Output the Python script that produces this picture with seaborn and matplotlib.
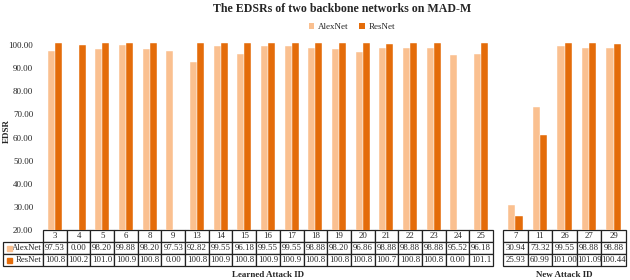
import matplotlib
matplotlib.use("Agg")
import matplotlib.pyplot as plt
from matplotlib.patches import Patch
import seaborn as sns
import pandas as pd

learned_ids = ["3", "4", "5", "6", "8", "9", "13", "14", "15", "16", "17", "18",
               "19", "20", "21", "22", "23", "24", "25"]
learned_alex = [97.53, 0.00, 98.20, 99.88, 98.20, 97.53, 92.82, 99.55, 96.18, 99.55,
                99.55, 98.88, 98.20, 96.86, 98.88, 98.88, 98.88, 95.52, 96.18]
learned_res = [100.8, 100.2, 101.0, 100.9, 100.8, 0.00, 100.8, 100.9, 100.8, 100.9,
               100.9, 100.8, 100.8, 100.8, 100.7, 100.8, 100.8, 0.00, 101.1]
learned_alex_txt = ["97.53", "0.00", "98.20", "99.88", "98.20", "97.53", "92.82", "99.55",
                    "96.18", "99.55", "99.55", "98.88", "98.20", "96.86", "98.88", "98.88",
                    "98.88", "95.52", "96.18"]
learned_res_txt = ["100.8", "100.2", "101.0", "100.9", "100.8", "0.00", "100.8", "100.9",
                   "100.8", "100.9", "100.9", "100.8", "100.8", "100.8", "100.7", "100.8",
                   "100.8", "0.00", "101.1"]

new_ids = ["7", "11", "26", "27", "29"]
new_alex = [30.94, 73.32, 99.55, 98.88, 98.88]
new_res = [25.93, 60.99, 101.00, 101.09, 100.44]
new_alex_txt = ["30.94", "73.32", "99.55", "98.88", "98.88"]
new_res_txt = ["25.93", "60.99", "101.00", "101.09", "100.44"]

models = ["AlexNet", "ResNet"]
colors = ["#FAC090", "#E46C0A"]

sns.set_style("white")
plt.rcParams["font.family"] = ["Liberation Serif", "DejaVu Serif"]

fig = plt.figure(figsize=(6.3, 2.8), dpi=100)
W, H = 630, 280
ax_bottom = 230
ax_top = 40.5
ax_h = (ax_bottom - ax_top) / H
ax1 = fig.add_axes([43 / W, 1 - ax_bottom / H, 450 / W, ax_h])
ax2 = fig.add_axes([503 / W, 1 - ax_bottom / H, 123 / W, ax_h])

tbl_h = 36.4 / (ax_bottom - ax_top)


def draw_panel(ax, ids, alex, res, alex_txt, res_txt, title, labels):
    df = pd.DataFrame({
        "ID": ids + ids,
        "Model": ["AlexNet"] * len(ids) + ["ResNet"] * len(ids),
        "EDSR": alex + res,
    })
    sns.barplot(data=df, x="ID", y="EDSR", hue="Model", order=ids, hue_order=models,
                palette=colors, saturation=1, width=0.59, edgecolor="white",
                linewidth=0.3, legend=False, ax=ax)
    ax.set_ylim(20, 102)
    ax.set_xlim(-0.5, len(ids) - 0.5)
    ax.set_xticks([])
    ax.set_xlabel("")
    ax.set_ylabel("")
    for s in ax.spines.values():
        s.set_visible(False)

    n = len(ids)
    if labels:
        lab_w = 40 / 450
        cells = [[""] + ids, ["AlexNet"] + alex_txt, ["ResNet"] + res_txt]
        widths = [lab_w] + [1 / n] * n
        bbox = [-lab_w, -tbl_h, 1 + lab_w, tbl_h]
    else:
        cells = [ids, alex_txt, res_txt]
        widths = [1 / n] * n
        bbox = [0, -tbl_h, 1, tbl_h]
    tbl = ax.table(cellText=cells, colWidths=widths, bbox=bbox, cellLoc="center")
    tbl.auto_set_font_size(False)
    tbl.set_fontsize(6.3)
    for (r, c), cell in tbl.get_celld().items():
        cell.set_linewidth(0.9)
        cell.set_edgecolor("#222222")
        cell.PAD = 0.03
        if labels and c == 0:
            if r == 0:
                cell.visible_edges = ""
            else:
                cell._loc = "right"
                cell.get_text().set_ha("right")

    if labels:
        rh = tbl_h / 3
        for i, col in enumerate(colors):
            ax.plot([-lab_w + 6 / 450], [-tbl_h + rh * (1.5 - i)],
                    marker="s", markersize=3.6, color=col, transform=ax.transAxes,
                    clip_on=False, linestyle="none")

    ax.text(0.5, -tbl_h - 8.5 / (ax_bottom - ax_top), title, transform=ax.transAxes,
            ha="center", va="center", fontsize=6.5, fontweight="bold")


draw_panel(ax1, learned_ids, learned_alex, learned_res, learned_alex_txt, learned_res_txt,
           "Learned Attack ID", True)
draw_panel(ax2, new_ids, new_alex, new_res, new_alex_txt, new_res_txt,
           "New Attack ID", False)

ax1.set_yticks(range(20, 101, 10))
ax1.set_yticklabels([f"{v:.2f}" for v in range(20, 101, 10)], fontsize=6.5)
ax1.tick_params(axis="y", length=0, pad=7)
ax2.set_yticks([])

fig.text(7 / W, 1 - 131 / H, "EDSR", rotation=90, ha="center", va="center",
         fontsize=6.5, fontweight="bold")
fig.text(342 / W, 1 - 9 / H, "The EDSRs of two backbone networks on MAD-M",
         ha="center", va="center", fontsize=8.6, fontweight="bold")

handles = [Patch(facecolor=c, edgecolor="none", label=m) for m, c in zip(models, colors)]
fig.legend(handles=handles, loc="center", bbox_to_anchor=(352 / W, 1 - 27 / H), ncol=2,
           frameon=False, fontsize=6.5, handlelength=0.6, handleheight=0.6,
           handletextpad=0.4, columnspacing=1.2)

fig.savefig("out.png", dpi=100)
